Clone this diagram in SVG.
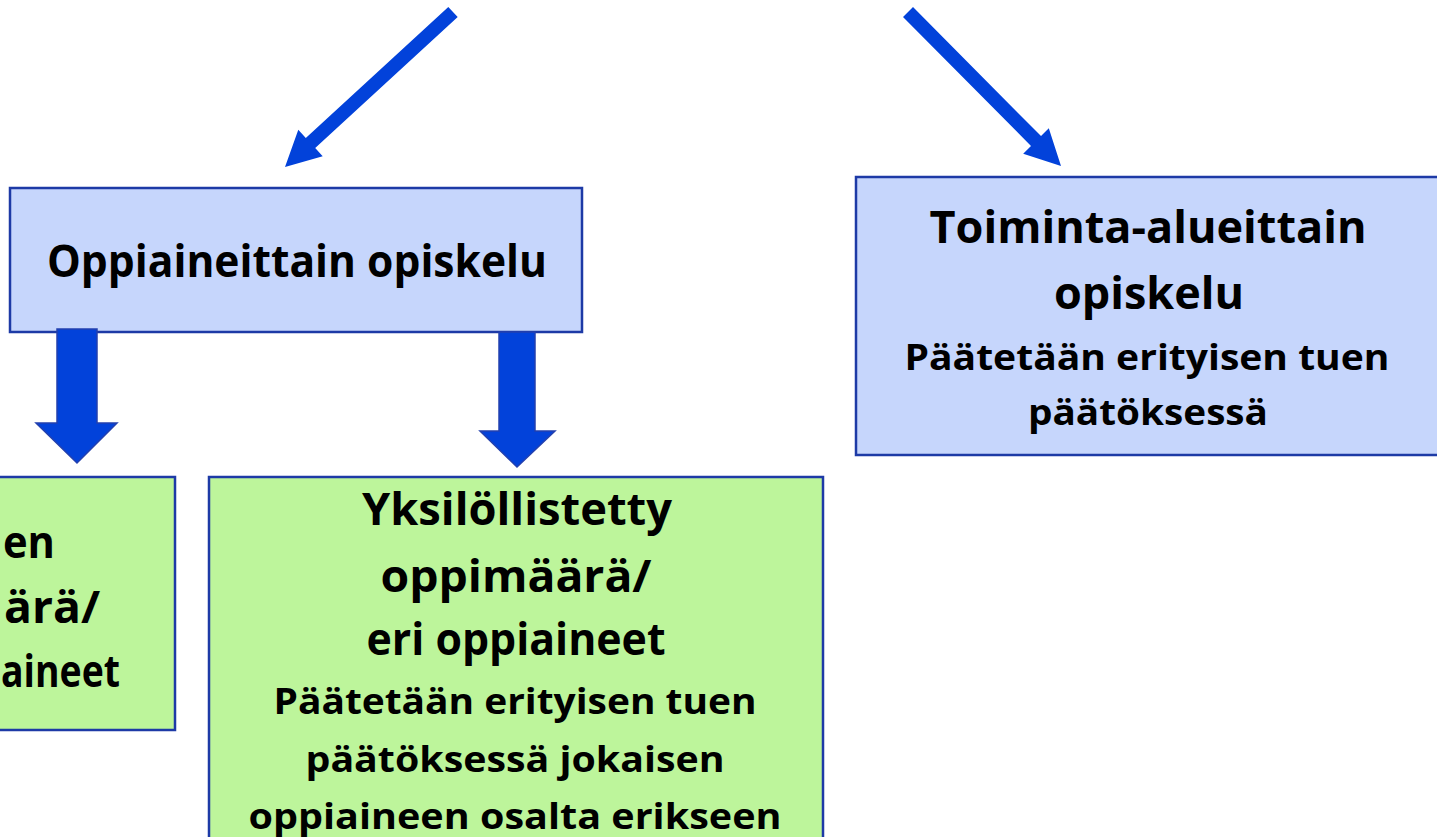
<svg xmlns="http://www.w3.org/2000/svg" width="1437" height="837" viewBox="0 0 1437 837">
<style>
.blue{fill:#c6d6fc;stroke:#1d3aa6;stroke-width:2.5}
.green{fill:#bdf59b;stroke:#1d3aa6;stroke-width:2.5}
.big{font-family:"Open Sans","Liberation Sans",sans-serif;font-weight:700;font-size:44px;fill:#000;text-anchor:middle}
.small{font-family:"Open Sans","Liberation Sans",sans-serif;font-weight:700;font-size:35px;fill:#000;text-anchor:middle}
.lft{text-anchor:start}
.arr{fill:#0242da}
.blk{fill:#0242da;stroke:#2340ae;stroke-width:1.5}
</style>
<rect width="1437" height="837" fill="#fff"/>
<g id="node-oppiaineittain">
<rect class="blue" x="10" y="188" width="572" height="144"/>
<text class="big" x="297" y="277" textLength="500" lengthAdjust="spacingAndGlyphs">Oppiaineittain opiskelu</text>
</g>
<g id="node-toiminta">
<rect class="blue" x="856" y="177" width="600" height="278"/>
<text class="big" x="1148" y="243" textLength="437" lengthAdjust="spacingAndGlyphs">Toiminta-alueittain</text>
<text class="big" x="1149" y="309" textLength="190" lengthAdjust="spacingAndGlyphs">opiskelu</text>
<text class="small" x="1147" y="370" textLength="485" lengthAdjust="spacingAndGlyphs">Päätetään erityisen tuen</text>
<text class="small" x="1148" y="425" textLength="240" lengthAdjust="spacingAndGlyphs">päätöksessä</text>
</g>
<g id="node-yleinen">
<rect class="green" x="-20" y="477" width="195" height="253"/>
<text class="big lft" x="3" y="558" textLength="52" lengthAdjust="spacingAndGlyphs">en</text>
<text class="big lft" x="4" y="623" textLength="96" lengthAdjust="spacingAndGlyphs">ärä/</text>
<text class="big lft" x="1" y="687" textLength="119" lengthAdjust="spacingAndGlyphs">aineet</text>
</g>
<g id="node-yksilollistetty">
<rect class="green" x="209" y="477" width="614" height="380"/>
<text class="big" x="517" y="525" textLength="310" lengthAdjust="spacingAndGlyphs">Yksilöllistetty</text>
<text class="big" x="516" y="592" textLength="271" lengthAdjust="spacingAndGlyphs">oppimäärä/</text>
<text class="big" x="516" y="655" textLength="299" lengthAdjust="spacingAndGlyphs">eri oppiaineet</text>
<text class="small" x="515" y="714" textLength="483" lengthAdjust="spacingAndGlyphs">Päätetään erityisen tuen</text>
<text class="small" x="515" y="772" textLength="419" lengthAdjust="spacingAndGlyphs">päätöksessä jokaisen</text>
<text class="small" x="515" y="829" textLength="533" lengthAdjust="spacingAndGlyphs">oppiaineen osalta erikseen</text>
</g>
<g id="connectors">
<polygon class="arr" points="448.3,6.9 457.7,17.1 315.2,148.1 322.7,156.2 285,167 298.3,129.8 305.8,137.9"/>
<polygon class="arr" points="913,7.1 1041,136.1 1048.8,128.3 1061,166 1023.2,153.7 1031,145.9 903,16.9"/>
<polygon class="blk" points="57,329 97,329 97,423 117,423 77,463 36,423 57,423"/>
<polygon class="blk" points="499,332 535,332 535,431 555,431 517,467 480,431 499,431"/>
</g>
</svg>
